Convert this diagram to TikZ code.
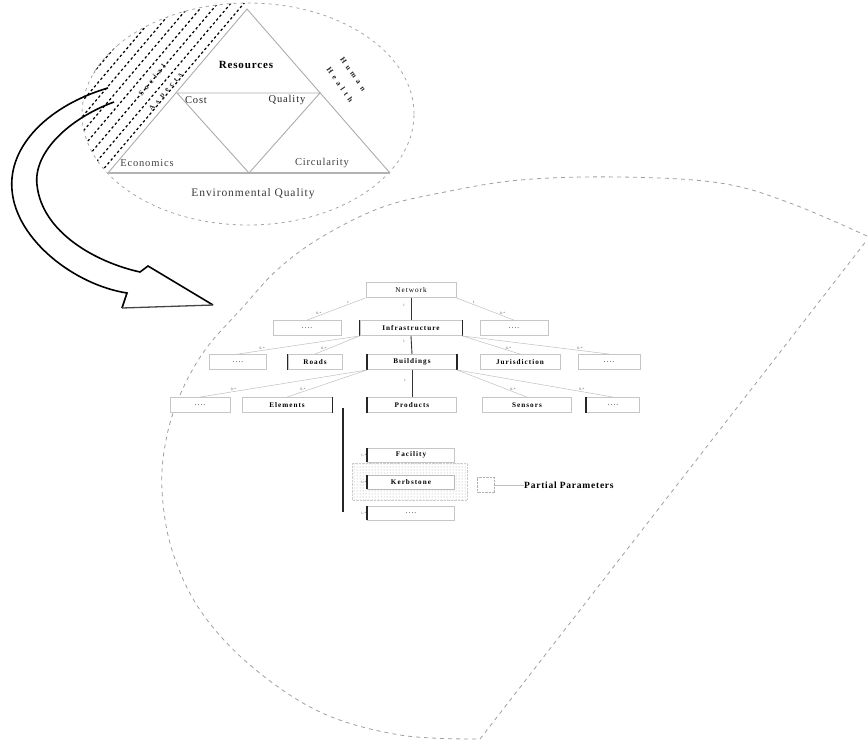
\documentclass[tikz,border=0pt]{standalone}
\usepackage{fontspec}
\setmainfont{Liberation Serif}
\newfontfamily\spcfont[LetterSpace=14]{Liberation Serif}
\newfontfamily\midfont[LetterSpace=8]{Liberation Serif}
\newfontfamily\xwidefont[LetterSpace=50]{Liberation Serif}
\usetikzlibrary{patterns}
\newcommand\hbfont{\spcfont\fontsize{7.2}{8}\selectfont}
\begin{document}
\begin{tikzpicture}[x=1pt,y=-1pt,
  tri/.style={draw=gray!65, line width=0.9pt},
  ell/.style={draw=gray!70, line width=0.8pt, dash pattern=on 3pt off 4pt},
  hatch/.style={draw=black, line width=1.2pt, dash pattern=on 2.5pt off 2.5pt},
  arr/.style={draw=black, line width=1.6pt},
  cone/.style={draw=gray!75, line width=0.8pt, dash pattern=on 4pt off 4pt},
  hb/.style={draw=gray!45, line width=0.9pt, fill=white, minimum height=15pt, inner sep=0pt, font=\hbfont},
  conn/.style={draw=gray!50, line width=0.5pt},
  trunk/.style={draw=gray!40!black, line width=0.9pt},
  tiny/.style={font=\fontsize{3.5}{4}\selectfont, text=gray!60!black, inner sep=0.5pt},
  tlab/.style={font=\midfont\fontsize{10.5}{12}\selectfont, inner sep=0pt},
  slab/.style={inner sep=0pt, font=\xwidefont\bfseries\fontsize{7.5}{9}\selectfont},
  ledge/.style={draw=gray!30!black, line width=1.3pt}
]
\useasboundingbox (0,0) rectangle (868,740);

% ---------- upper ellipse with triangles ----------
\coordinate (T) at (247,9);
\coordinate (BL) at (108,173);
\coordinate (BR) at (390,173);
\coordinate (IL) at (177,93);
\coordinate (IR) at (320,93);
\coordinate (IB) at (249,173);

\begin{scope}
  \clip (248,114) ellipse [x radius=166pt, y radius=111pt];
  \clip (BL) -- (T) -- (247,-20) -- (0,-20) -- (0,178) -- (108,178) -- cycle;
  \foreach \o in {6,16,...,96}{
    \draw[hatch, shift={({-0.763*\o},{-0.647*\o})}] (41,252) -- (314,-70);
  }
\end{scope}

\draw[ell] (248,114) ellipse [x radius=166pt, y radius=111pt];
\draw[tri] (BL) -- (T) -- (BR);
\draw[tri, draw=gray!60, line width=1.4pt] (BL) -- (BR);
\draw[tri] (IL) -- (IR) -- (IB) -- cycle;

\node[tlab, font=\midfont\bfseries\fontsize{11}{12}\selectfont] (res) at (246,65) {Resources};
\node[tlab, text=gray!30!black] (cost) at (196,100) {Cost};
\node[tlab, text=gray!30!black] (qual) at (287,100) {Quality};
\node[tlab, text=gray!50!black] (econ) at (147,163) {Economics};
\node[tlab, text=gray!50!black] (circ) at (322,163) {Circularity};
\node[tlab, text=gray!45!black, font=\midfont\fontsize{11.5}{13}\selectfont] (env) at (253,194) {Environmental Quality};
\node[slab, rotate=-55, text=gray!25!black] (hh1) at (353,74) {Human};
\node[slab, rotate=-55, text=gray!25!black] (hh2) at (340,85) {Health};
\node[slab, rotate=50, text=gray!35!black] (soc1) at (152,80) {Social};
\node[slab, rotate=50, text=gray!35!black] (soc2) at (166,92) {Aspects};

% ---------- hollow curved arrow ----------
\coordinate (o0) at (108,88);
\coordinate (o1) at (127,293);
\coordinate (ob) at (122,308);
\coordinate (i0) at (114,102);
\coordinate (i1) at (140,272);
\coordinate (ib) at (148,266);
\coordinate (tip) at (213,305);
\draw[arr] (o0) .. controls (50,105) and (8,145) .. (12,190)
           .. controls (16,240) and (75,285) .. (o1) -- (ob);
\draw[arr] (i0) .. controls (70,118) and (33,152) .. (37,185)
           .. controls (42,232) and (95,262) .. (i1) -- (ib) -- (tip);
\draw[draw=gray!55!black, line width=1.3pt] (ob) -- (tip);

% ---------- big cone shape ----------
\draw[cone] plot[smooth, tension=0.6] coordinates {
  (867,236) (790,203) (720,183) (620,177) (520,180) (440,193) (380,208)
  (320,238) (277,270) (243,307) (205,350) (180,395) (166,440) (162,490)
  (172,550) (200,610) (250,665) (320,712) (400,735) (480,739)}
  -- (867,240);

% ---------- hierarchy ----------
\node[hb, minimum width=90pt] (A) at (411,290) {Network};

\node[hb, minimum width=68pt] (B1) at (307,328) {....};
\node[hb, minimum width=102pt] (B2) at (411,328) {\bfseries Infrastructure};
\node[hb, minimum width=68pt] (B3) at (514,328) {....};

\node[hb, minimum width=57pt] (C1) at (238,362) {....};
\node[hb, minimum width=54pt] (C2) at (315,362) {\bfseries Roads};
\node[hb, minimum width=89pt] (C3) at (412,362) {\bfseries Buildings};
\node[hb, minimum width=80pt] (C4) at (520,362) {\bfseries Jurisdiction};
\node[hb, minimum width=62pt] (C5) at (609,362) {....};

\node[hb, minimum width=60pt] (D1) at (200,405) {....};
\node[hb, minimum width=90pt] (D2) at (287,405) {\bfseries Elements};
\node[hb, minimum width=89pt] (D3) at (412,405) {\bfseries Products};
\node[hb, minimum width=89pt] (D4) at (527,405) {\bfseries Sensors};
\node[hb, minimum width=53pt] (D5) at (613,405) {....};

% dotted band behind the selected element
\fill[pattern=dots, pattern color=gray!70] (352,463) rectangle (467,500);
\draw[gray!40, densely dotted] (352,463) rectangle (467,500);

\node[hb, minimum width=87pt, minimum height=14pt] (E1) at (411,455) {\bfseries Facility};
\node[hb, minimum width=87pt, minimum height=14pt, draw=gray!55] (E2) at (411,482) {\bfseries Kerbstone};
\node[hb, minimum width=87pt, minimum height=14pt] (E3) at (411,513) {....};

\foreach \n in {B2,C2,C3,D3,D5,E1,E2,E3}{
  \draw[ledge] (\n.north west) -- (\n.south west);
}
\foreach \n in {B2,C3,D2}{
  \draw[ledge] (\n.north east) -- (\n.south east);
}

% trunk connectors
\draw[trunk] (A.south) -- (B2.north);
\draw[trunk] (B2.south) -- (C3.north);
\draw[trunk] (C3.south) -- (D3.north);
\coordinate (vt) at (343,408);
\coordinate (vb) at (343,512);
\draw[draw=gray!30!black, line width=2pt] (vt) -- (vb);

% side connectors with multiplicities
\draw[conn] (A.south west) -- node[tiny, pos=0.3, above] {1} node[tiny, pos=0.8, above] {0..*} (B1.north);
\draw[conn] (A.south east) -- node[tiny, pos=0.3, above] {1} node[tiny, pos=0.8, above] {0..*} (B3.north);
\draw[conn] (B2.south west) -- node[tiny, pos=0.8, above] {0..*} (C1.north);
\draw[conn] (B2.south west) -- node[tiny, pos=0.8, above] {0..*} (C2.north);
\draw[conn] (B2.south east) -- node[tiny, pos=0.8, above] {0..*} (C4.north);
\draw[conn] (B2.south east) -- node[tiny, pos=0.8, above] {0..*} (C5.north);
\draw[conn] (C3.south west) -- node[tiny, pos=0.8, above] {0..*} (D1.north);
\draw[conn] (C3.south west) -- node[tiny, pos=0.8, above] {0..*} (D2.north);
\draw[conn] (C3.south east) -- node[tiny, pos=0.8, above] {0..*} (D4.north);
\draw[conn] (C3.south east) -- node[tiny, pos=0.8, above] {0..*} (D5.north);
\node[tiny] (m1) at (404,305) {1};
\node[tiny] (m2) at (404,341) {1};
\node[tiny] (m3) at (405,380) {1};

\node[tiny, anchor=east] (l1) at (E1.west) {1..*};
\node[tiny, anchor=east] (l2) at (E2.west) {1..*};
\node[tiny, anchor=east] (l3) at (E3.west) {1..*};

% partial parameters
\node[draw=gray!60, densely dotted, minimum width=17pt, minimum height=15pt, inner sep=0pt] (br) at (486,485) {};
\node[anchor=west, inner sep=0pt, font=\midfont\bfseries\fontsize{9.5}{11}\selectfont] (PP) at (524,485) {Partial Parameters};
\draw[conn, draw=gray!50] (br.east) -- (PP.west);
\end{tikzpicture}
\end{document}
